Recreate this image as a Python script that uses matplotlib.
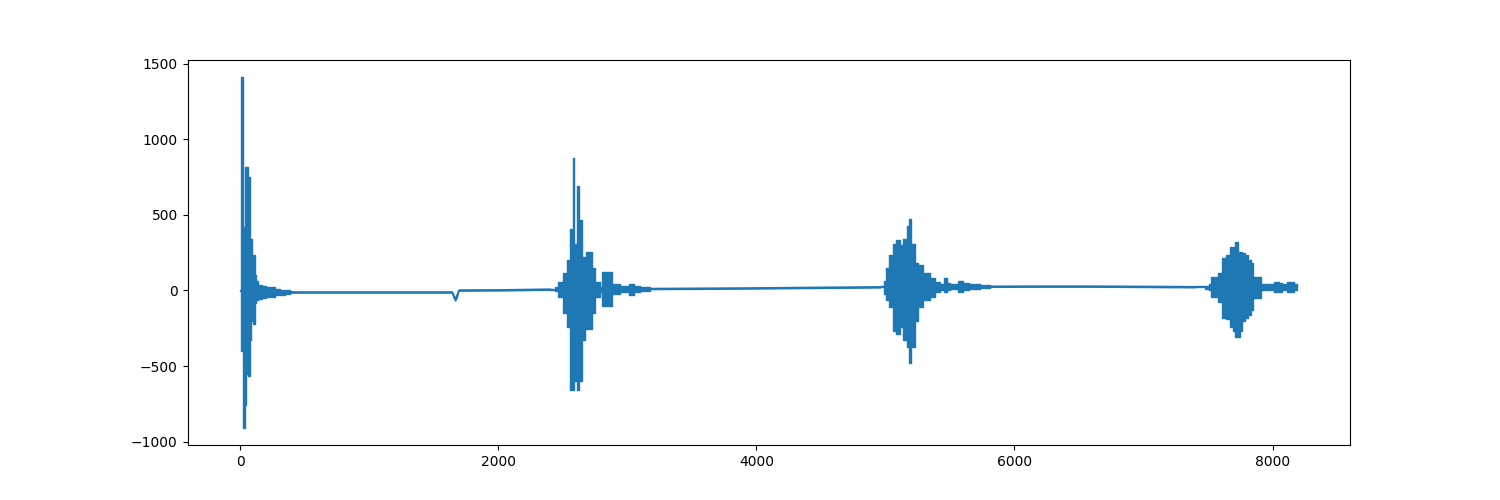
import matplotlib
matplotlib.use("Agg")
import matplotlib.pyplot as plt
import numpy as np

# Bursts: each entry = (first sample of a stretch, upper value, lower value)
burst1_s  = [0, 2, 8, 23, 36, 44, 60, 72, 80, 88, 98, 114, 124, 139, 170, 201, 232, 271, 310, 348, 387]
burst1_hi = [5, 748, 1410, 420, 815, 815, 750, 344, 344, 150, 232, 100, 60, 35, 30, 25, 20, 10, 5, 0, -5]
burst1_lo = [-5, -30, -400, -907, -760, -550, -563, -330, -200, -100, -220, -80, -60, -55, -50, -45, -40, -32, -28, -22, -15]

burst2_s  = [2401, 2440, 2463, 2501, 2532, 2556, 2579, 2587, 2610, 2625, 2648, 2672, 2680, 2726, 2749, 2788,
             2803, 2881, 2943, 3010, 3051, 3098, 3175]
burst2_hi = [13, 20, 53, 113, 199, 410, 874, 311, 695, 464, 219, 66, 252, 146, 53, 20,
             120, 46, 30, 46, 30, 25, 17]
burst2_lo = [5, -5, -46, -152, -245, -662, -662, -596, -662, -596, -331, -66, -252, -152, -46, -10,
             -105, -20, -10, -33, -10, -5, 9]

burst3_s  = [4956, 4990, 5003, 5026, 5057, 5080, 5111, 5134, 5165, 5186, 5200, 5227, 5250, 5289, 5343, 5382,
             5421, 5450, 5475, 5500, 5560, 5600, 5650, 5731, 5808]
burst3_hi = [28, 60, 146, 232, 311, 331, 300, 344, 430, 470, 311, 179, 166, 113, 80, 53,
             40, 80, 50, 40, 66, 50, 40, 36, 32]
burst3_lo = [20, -20, -66, -112, -265, -285, -245, -331, -377, -483, -377, -199, -112, -66, -46, -13,
             5, -13, 0, 10, -13, 5, 12, 14, 24]

burst4_s  = [7396, 7480, 7510, 7527, 7574, 7612, 7643, 7667, 7690, 7713, 7729, 7745, 7760, 7783, 7810, 7837,
             7845, 7914, 8015, 8050, 8077, 8116, 8170, 8191]
burst4_hi = [29, 30, 40, 86, 113, 212, 232, 285, 285, 320, 252, 252, 245, 232, 200, 179,
             86, 40, 53, 50, 40, 53, 40, 30]
burst4_lo = [21, 10, 0, -46, -79, -179, -186, -245, -265, -311, -311, -265, -199, -179, -160, -132,
             -53, 0, -13, -10, 5, -13, 5, 10]

# Quiet stretches between bursts: (sample, upper, lower)
quiet1_s  = [387, 420, 800, 1200, 1640, 1652, 1664, 1676, 1690, 1700, 2000, 2401]
quiet1_hi = [-5, -6, -6, -6, -6, -30, -50, -25, 6, 7, 8, 13]
quiet1_lo = [-15, -14, -14, -14, -14, -45, -66, -50, -4, -1, 0, 5]

quiet2_s  = [3175, 3600, 4000, 4500, 4956]
quiet2_hi = [17, 19, 21, 25, 28]
quiet2_lo = [9, 11, 13, 17, 20]

quiet3_s  = [5808, 6200, 6600, 7000, 7396]
quiet3_hi = [32, 33, 33, 31, 29]
quiet3_lo = [24, 25, 25, 23, 21]

fig, ax = plt.subplots(figsize=(15, 5), dpi=100)
color = '#1f77b4'
for s, hi, lo in [(burst1_s, burst1_hi, burst1_lo), (burst2_s, burst2_hi, burst2_lo),
                  (burst3_s, burst3_hi, burst3_lo), (burst4_s, burst4_hi, burst4_lo)]:
    ax.fill_between(s, lo, hi, step='post', color=color, edgecolor=color, linewidth=1.0)
for s, hi, lo in [(quiet1_s, quiet1_hi, quiet1_lo), (quiet2_s, quiet2_hi, quiet2_lo),
                  (quiet3_s, quiet3_hi, quiet3_lo)]:
    ax.fill_between(s, lo, hi, color=color, edgecolor=color, linewidth=1.0)
fig.savefig("out.png", dpi=100)
